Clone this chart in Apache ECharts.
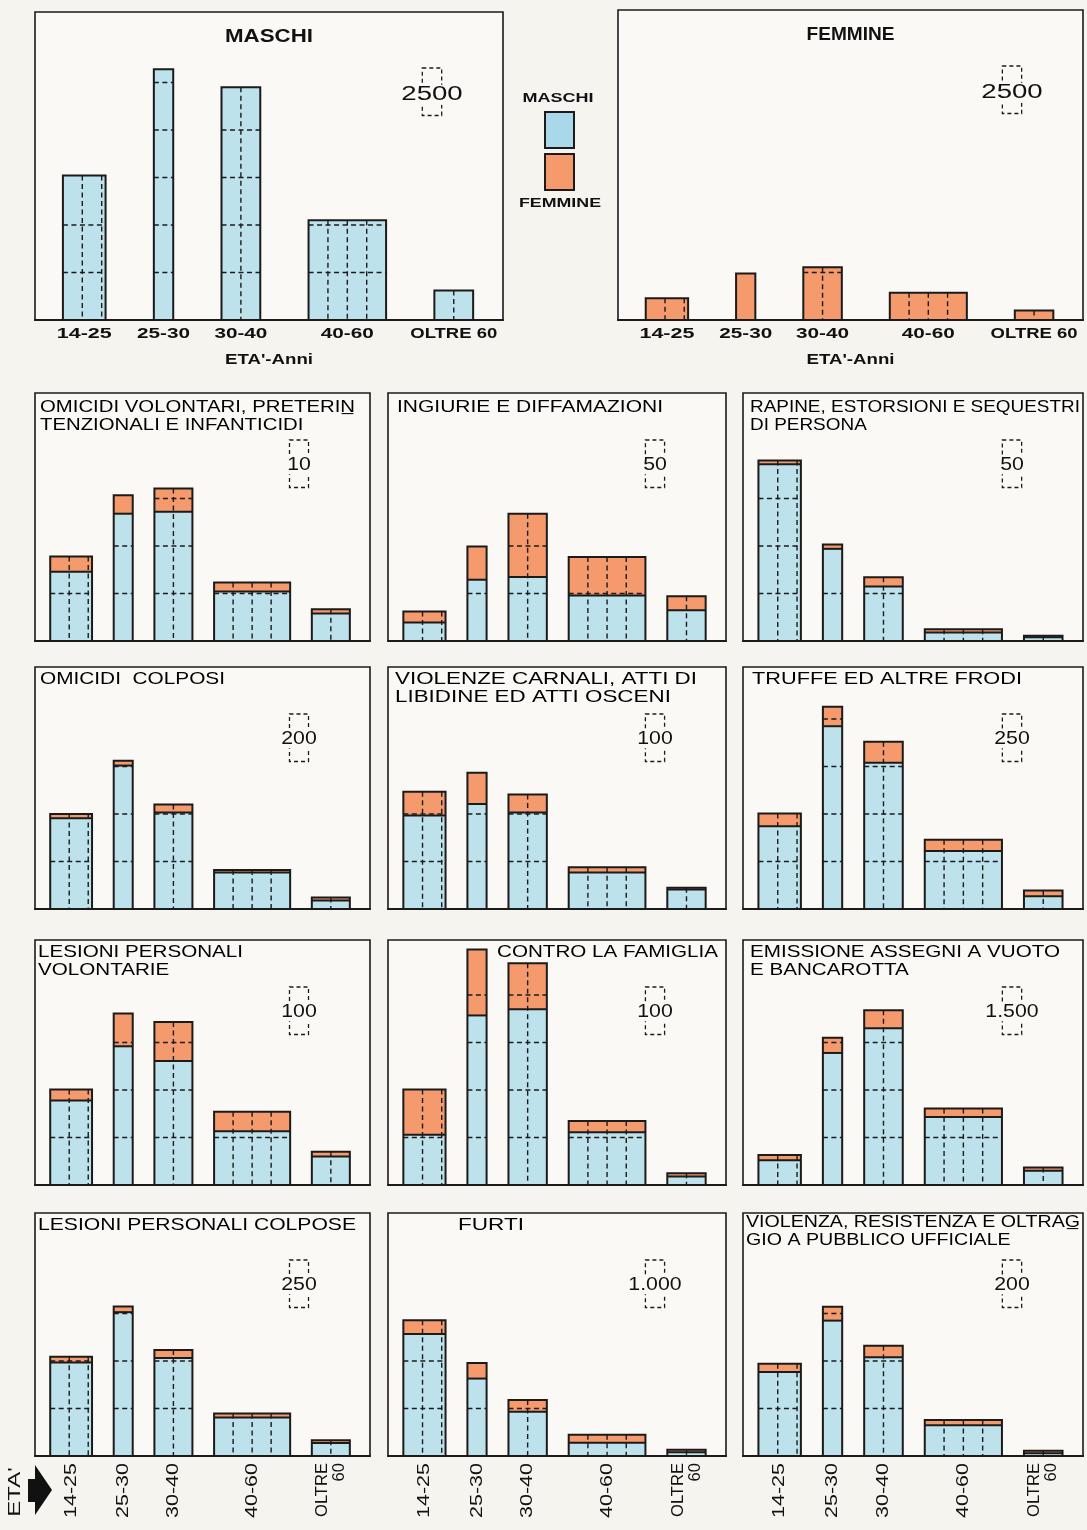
<!DOCTYPE html>
<html><head><meta charset="utf-8">
<script src="https://cdn.jsdelivr.net/npm/echarts@6/dist/echarts.min.js"></script>
<style>html,body{margin:0;padding:0;background:#f6f4ef}#c{width:1087px;height:1530px}</style>
</head><body><div id="c"></div><script>
// ---------- DATA ----------
const ageLabels = ['14-25', '25-30', '30-40', '40-60', 'OLTRE 60'];
const ageSpans = [11, 5, 10, 20, 10];           // width of each age class, in years

// top panels (totals)
const maschiTotali  = [7600, 13200, 12250, 5250, 1550];
const femmineTotali = [1150, 2450, 2780, 1440, 500];
const totaliScala = 2500;

// small panels: titles, unit of the scale key, males, females
const titoli = [
  'OMICIDI VOLONTARI, PRETERIN\u0332\nTENZIONALI E INFANTICIDI',
  'INGIURIE E DIFFAMAZIONI',
  'RAPINE, ESTORSIONI E SEQUESTRI\nDI PERSONA',
  'OMICIDI  COLPOSI',
  'VIOLENZE CARNALI, ATTI DI\nLIBIDINE ED ATTI OSCENI',
  'TRUFFE ED ALTRE FRODI',
  'LESIONI PERSONALI\nVOLONTARIE',
  'CONTRO LA FAMIGLIA',
  'EMISSIONE ASSEGNI A VUOTO\nE BANCAROTTA',
  'LESIONI PERSONALI COLPOSE',
  'FURTI',
  'VIOLENZA, RESISTENZA E OLTRAG\u0332\nGIO A PUBBLICO UFFICIALE'
];
const scale = [10, 50, 50, 200, 100, 250, 100, 100, 1500, 250, 1000, 200];
const scaleLabels = ['10', '50', '50', '200', '100', '250', '100', '100', '1.500', '250', '1.000', '200'];

const omicidiVolontariM = [14.6, 26.8, 27.2, 10.4, 5.8];
const omicidiVolontariF = [3.2, 3.9, 4.9, 1.9, 0.9];
const ingiurieM = [19.5, 64.5, 67.5, 48, 32.5];
const ingiurieF = [11.5, 35, 66.5, 40.5, 14.5];
const rapineM = [186, 97, 57.5, 9, 4];
const rapineF = [4, 4.5, 9.5, 3.5, 1.5];
const omicidiColposiM = [382, 604, 406, 154, 36];
const omicidiColposiF = [18, 20, 34, 10, 12];
const violenzeCarnaliM = [197, 221, 203, 77, 41];
const violenzeCarnaliF = [50, 66, 38, 11, 4];
const truffeM = [435, 962, 770, 305, 67];
const truffeF = [68, 103, 110, 60, 30];
const lesioniVolontarieM = [178, 292, 261, 113, 60];
const lesioniVolontarieF = [23, 69, 82, 41, 10];
const famigliaM = [106, 357, 370, 111, 18];
const famigliaF = [95, 139, 97, 24, 7];
const assegniM = [780, 4170, 4950, 2145, 450];
const assegniF = [165, 480, 570, 270, 105];
const lesioniColposeM = [492, 757, 516, 202, 69];
const lesioniColposeF = [30, 30, 42, 22, 14];
const furtiM = [2570, 1630, 930, 280, 80];
const furtiF = [290, 330, 250, 170, 50];
const violenzaPUM = [354, 570, 416, 130, 12];
const violenzaPUF = [34, 58, 48, 22, 10];

const maschiSmall = [omicidiVolontariM, ingiurieM, rapineM, omicidiColposiM, violenzeCarnaliM, truffeM,
  lesioniVolontarieM, famigliaM, assegniM, lesioniColposeM, furtiM, violenzaPUM];
const femmineSmall = [omicidiVolontariF, ingiurieF, rapineF, omicidiColposiF, violenzeCarnaliF, truffeF,
  lesioniVolontarieF, famigliaF, assegniF, lesioniColposeF, furtiF, violenzaPUF];

// ---------- STYLE / LAYOUT ----------
const BLUE = '#bde2ec', ORANGE = '#f49a6c', INK = '#1b1b1b', PANEL_BG = '#faf9f5';
const FONT = "'Liberation Sans', Arial, sans-serif";
const UNIT_PX = 47.5;
const zeros = ageSpans.map(() => 0);
const mctx = document.createElement('canvas').getContext('2d');
function textW(t, font) { mctx.font = font; return Math.max.apply(null, t.split('\n').map(s => mctx.measureText(s).width)); }
function firstW(t, font) { mctx.font = font; return mctx.measureText(t.split('\n')[0]).width; }

const topLabelW = [55, 53, 53, 53, 87];        // target printed widths (px)
const bottomLabelW = [55, 55, 55, 55, 54];
const titleW = [315, 266, 330, 185, 302, 270, 205, 221, 310, 318, 66, 334];
const titlePos = [[40, 398], [397, 398], [750, 398], [40, 670], [395, 670], [752, 670],
  [38, 943], [497, 943], [750, 943], [38, 1216], [458, 1216], [746, 1213]];

function starts(padL, gap) { const s = []; let x = padL; ageSpans.forEach(w => { s.push(x); x += w + gap; }); return {s, max: x - gap}; }
const bigL = starts(7.2, 12.45), smallL = starts(4, 5.7);
const bigMax = bigL.max + 7.7, smallMax = smallL.max + 5.3;

const colLeft = [35, 388, 743], colW = [335, 338, 340];
const rowTop = [393, 667, 940, 1213], rowH = [248, 242, 245, 243];

const panels = [
  {big: true, left: 35, top: 12, width: 468, height: 308, m: maschiTotali, f: zeros, unit: totaliScala, unitLabel: '2500', title: 'MASCHI'},
  {big: true, left: 618, top: 10, width: 465, height: 310, m: zeros, f: femmineTotali, unit: totaliScala, unitLabel: '2500', title: 'FEMMINE'}
];
titoli.forEach((t, i) => {
  const r = Math.floor(i / 3), c = i % 3;
  panels.push({big: false, row: r, left: colLeft[c], top: rowTop[r], width: colW[c], height: rowH[r],
    m: maschiSmall[i], f: femmineSmall[i], unit: scale[i], unitLabel: scaleLabels[i], title: t});
});

const grids = [], xAxes = [], yAxes = [], series = [];
const graphic = [];
panels.forEach((p, i) => {
  const L = p.big ? bigL : smallL;
  grids.push({left: p.left, top: p.top, width: p.width, height: p.height, show: true,
    backgroundColor: PANEL_BG, borderColor: INK, borderWidth: 1.6, containLabel: false});
  const bottomRow = !p.big && p.row === 3;
  xAxes.push({type: 'value', gridIndex: i, min: 0, max: p.big ? bigMax : smallMax,
    axisLine: {show: true, onZero: true, lineStyle: {color: INK, width: 2.2}},
    axisTick: {show: false}, splitLine: {show: false}, axisLabel: {show: false}});
  yAxes.push({type: 'value', gridIndex: i, min: 0, max: p.height / UNIT_PX * p.unit,
    show: false, splitLine: {show: false}});
  const data = L.s.map((s, k) => [s, s + ageSpans[k], p.m[k], p.f[k], k]);
  series.push({type: 'custom', xAxisIndex: i, yAxisIndex: i, clip: false, data: data,
    encode: {x: [0, 1], y: [2]},
    renderItem: function (params, api) {
      const x0 = api.value(0), x1 = api.value(1), m = api.value(2), f = api.value(3), k = api.value(4);
      const base = api.coord([x0, 0]);
      const left = base[0], yb = base[1], right = api.coord([x1, 0])[0];
      const yM = api.coord([x0, m])[1], yT = api.coord([x0, m + f])[1];
      const w = right - left, ch = [];
      if (m > 0) ch.push({type: 'rect', shape: {x: left, y: yM, width: w, height: yb - yM}, style: {fill: BLUE}});
      if (f > 0) ch.push({type: 'rect', shape: {x: left, y: yT, width: w, height: yM - yT}, style: {fill: ORANGE}});
      for (let q = 1; q * p.unit < m + f - 0.08 * p.unit; q++) {
        const y = api.coord([x0, q * p.unit])[1];
        ch.push({type: 'line', shape: {x1: left, y1: y, x2: right, y2: y},
          style: {stroke: INK, lineWidth: 1.4, lineDash: [5, 3.5]}});
      }
      for (let yr = 5; yr < (x1 - x0) - 0.5; yr += 5) {
        const x = api.coord([x0 + yr, 0])[0];
        ch.push({type: 'line', shape: {x1: x, y1: yT, x2: x, y2: yb},
          style: {stroke: INK, lineWidth: 1.4, lineDash: [5, 3.5]}});
      }
      if (m > 0 && f > 0) ch.push({type: 'line', shape: {x1: left, y1: yM, x2: right, y2: yM}, style: {stroke: INK, lineWidth: 2}});
      ch.push({type: 'rect', shape: {x: left, y: yT, width: w, height: yb - yT}, style: {fill: 'none', stroke: INK, lineWidth: 2}});
      // category labels under the axis
      const cx = (left + right) / 2;
      if (p.big) {
        const font = 'bold 15px ' + FONT, t = ageLabels[k];
        ch.push({type: 'text', x: cx, y: yb + 14, scaleX: topLabelW[k] / textW(t, font),
          style: {text: t, font: font, fill: '#111', align: 'center', verticalAlign: 'middle'}});
      } else if (bottomRow) {
        const font = '17px ' + FONT, t = ageLabels[k].replace(' ', '\n');
        ch.push({type: 'text', x: cx, y: yb + 7, rotation: Math.PI / 2, scaleX: bottomLabelW[k] / textW(t, font),
          style: {text: t, font: font, fill: '#111', align: 'right', verticalAlign: 'middle', lineHeight: 17}});
      }
      return {type: 'group', children: ch};
    }});
  // scale key (box = 5 years x 1 unit)
  series.push({type: 'custom', xAxisIndex: i, yAxisIndex: i, clip: false, data: [[0, p.unit]],
    renderItem: function (params, api) {
      const cs = params.coordSys;
      const sz = api.size([5, api.value(1)]);
      const cx = cs.x + cs.width - 71;
      const top = cs.y + (p.big ? 56 : 47);
      return {type: 'group', children: [
        {type: 'rect', shape: {x: cx - sz[0] / 2, y: top, width: sz[0], height: sz[1]},
          style: {fill: 'none', stroke: INK, lineWidth: 1.3, lineDash: [4, 3]}},
        {type: 'text', x: cx, y: top + sz[1] / 2 + (p.big ? 3 : 1), scaleX: p.big ? 1.38 : 1.12,
          style: {text: p.unitLabel, fill: '#111', font: (p.big ? '20px ' : '19px ') + FONT, align: 'center', verticalAlign: 'middle',
            backgroundColor: PANEL_BG, padding: [0, 1]}}
      ]};
    }});
  if (p.big) {
    const font = 'bold 18px ' + FONT;
    graphic.push({type: 'text', x: p.left + p.width / 2, y: p.top + 25, scaleX: 88 / textW(p.title, font),
      style: {text: p.title, font: font, fill: '#111', align: 'center', verticalAlign: 'middle'}});
    const nf = 'bold 14px ' + FONT, nt = "ETA'-Anni";
    graphic.push({type: 'text', x: p.left + p.width / 2, y: 360, scaleX: 88 / textW(nt, nf),
      style: {text: nt, font: nf, fill: '#111', align: 'center', verticalAlign: 'middle'}});
  }
});

titoli.forEach((t, i) => {
  const font = '17px ' + FONT;
  graphic.push({type: 'text', x: titlePos[i][0], y: titlePos[i][1], scaleX: titleW[i] / firstW(t, font),
    style: {text: t, font: font, fill: '#000', lineHeight: 18, align: 'left', verticalAlign: 'top'}});
});

const lf = 'bold 13px ' + FONT;
graphic.push(
  {type: 'text', x: 558, y: 98, scaleX: 71 / textW('MASCHI', lf), style: {text: 'MASCHI', font: lf, fill: '#111', align: 'center', verticalAlign: 'middle'}},
  {type: 'rect', shape: {x: 545, y: 112, width: 29, height: 36}, style: {fill: '#a9d8ea', stroke: INK, lineWidth: 2}},
  {type: 'rect', shape: {x: 545, y: 154, width: 29, height: 36}, style: {fill: ORANGE, stroke: INK, lineWidth: 2}},
  {type: 'text', x: 560, y: 203, scaleX: 82 / textW('FEMMINE', lf), style: {text: 'FEMMINE', font: lf, fill: '#111', align: 'center', verticalAlign: 'middle'}},
  {type: 'text', x: 16, y: 1492, rotation: Math.PI / 2, scaleX: 1.5, style: {text: "ETA'", font: '16px ' + FONT, fill: '#111', align: 'center', verticalAlign: 'middle'}},
  {type: 'polygon', shape: {points: [[28, 1479], [35, 1479], [35, 1465], [52, 1490], [35, 1515], [35, 1502], [28, 1502]]},
    style: {fill: '#111'}}
);

const chart = echarts.init(document.getElementById('c'));
chart.setOption({
  backgroundColor: '#f6f4ef',
  animation: false,
  grid: grids, xAxis: xAxes, yAxis: yAxes, series: series, graphic: graphic
});
</script></body></html>
